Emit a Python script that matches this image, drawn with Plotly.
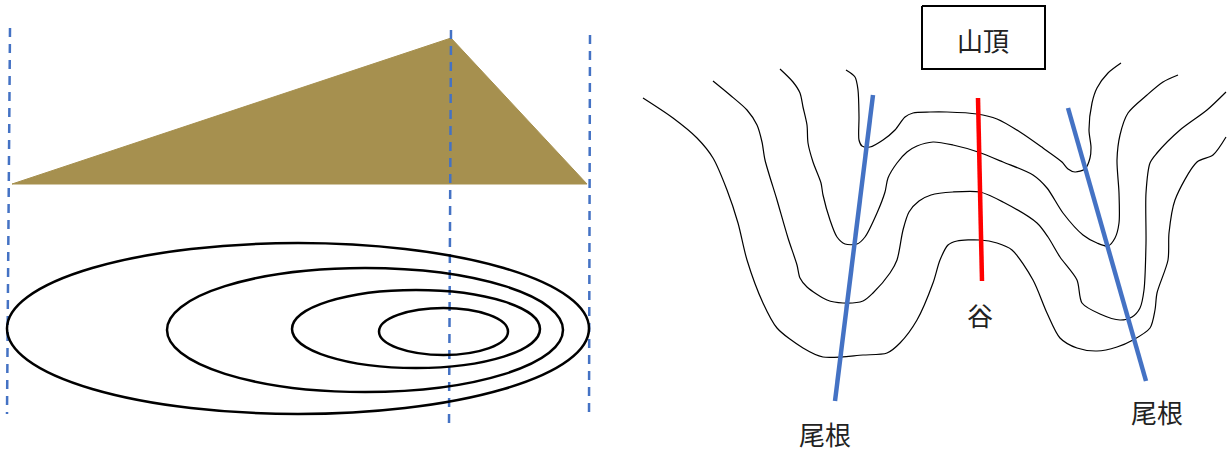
import plotly.graph_objects as go

# Profile (cross-section)
profile_x = [12, 451, 587, 12]
profile_y = [184, 38, 184, 184]

# Plan-view ellipses: left, right, top, bottom
ellipse_left = [7, 167, 292, 379]
ellipse_right = [589, 563, 540, 508]
ellipse_top = [243, 268, 290, 308]
ellipse_bottom = [414, 392, 368, 355]

# Dashed guides
guide_a_x = [10, 7]
guide_a_y = [28, 414]
guide_b_x = [451, 449]
guide_b_y = [30, 424]
guide_c_x = [590, 589]
guide_c_y = [35, 418]

# Contours
c1_x = [846, 855, 858, 859, 859, 862, 870, 883, 895, 905, 913, 930, 947, 977, 997, 1020, 1043, 1062, 1068, 1075, 1085, 1090, 1091, 1089, 1092, 1097, 1108, 1121]
c1_y = [70, 77, 90, 117, 140, 146, 147, 140, 130, 117, 113, 112, 112, 114, 119, 132, 148, 162, 169, 172, 169, 158, 147, 130, 103, 88, 73, 63]
c2_x = [780, 793, 800, 803, 807, 808, 813, 821, 823, 830, 837, 845, 857, 865, 877, 885, 888, 897, 907, 917, 933, 953, 978, 1003, 1033, 1047, 1063, 1083, 1097, 1108, 1115, 1119, 1119, 1117, 1120, 1128, 1147, 1163, 1178]
c2_y = [69, 82, 93, 107, 125, 143, 162, 183, 195, 220, 237, 244, 244, 237, 213, 192, 178, 163, 152, 146, 142, 145, 152, 162, 175, 188, 213, 235, 243, 246, 238, 223, 193, 160, 135, 113, 95, 82, 75]
c3_x = [713, 730, 747, 757, 762, 765, 777, 788, 797, 800, 807, 827, 843, 863, 873, 890, 897, 903, 909, 919, 931, 953, 980, 1003, 1037, 1048, 1060, 1077, 1082, 1100, 1120, 1132, 1140, 1144, 1146, 1146, 1150, 1157, 1180, 1207, 1226]
c3_y = [81, 95, 110, 125, 142, 160, 200, 238, 265, 278, 287, 300, 303, 301, 293, 273, 260, 230, 212, 201, 195, 192, 192, 202, 223, 237, 257, 280, 303, 314, 320, 317, 308, 290, 243, 193, 163, 153, 130, 110, 92]
c4_x = [643, 673, 697, 713, 727, 738, 747, 763, 777, 803, 823, 863, 887, 900, 917, 933, 940, 948, 957, 980, 997, 1012, 1033, 1047, 1060, 1077, 1097, 1117, 1133, 1150, 1155, 1157, 1168, 1169, 1175, 1197, 1213, 1226]
c4_y = [98, 118, 138, 158, 190, 223, 260, 303, 328, 348, 357, 355, 353, 343, 320, 283, 260, 245, 241, 240, 243, 250, 280, 313, 338, 348, 351, 347, 340, 328, 310, 293, 260, 233, 200, 162, 155, 137]

# Ridge and valley lines
ridge_a_x = [873, 835]
ridge_a_y = [95, 401]
ridge_b_x = [1068, 1146]
ridge_b_y = [108, 381]
valley_x = [978, 982]
valley_y = [98, 281]

# Summit box
box_x = [922, 1045, 1045, 922, 922]
box_y = [6, 6, 69, 69, 6]

# Labels
label_text = ["山頂", "谷", "尾根", "尾根"]
label_x = [983, 980, 825, 1157]
label_y = [44, 319, 438, 416]

fig = go.Figure()

fig.add_trace(go.Scatter(x=profile_x, y=profile_y, mode="lines", fill="toself",
                         fillcolor="#A6904F", line=dict(color="#A6904F", width=1)))

for l, r, t, b in zip(ellipse_left, ellipse_right, ellipse_top, ellipse_bottom):
    fig.add_shape(type="circle", xref="x", yref="y", x0=l, x1=r, y0=t, y1=b,
                  line=dict(color="black", width=2.5), layer="above")

for gx, gy in [(guide_a_x, guide_a_y), (guide_b_x, guide_b_y), (guide_c_x, guide_c_y)]:
    fig.add_trace(go.Scatter(x=gx, y=gy, mode="lines",
                             line=dict(color="#4472C4", width=2.5, dash="9px,7px")))

for cx, cy in [(c1_x, c1_y), (c2_x, c2_y), (c3_x, c3_y), (c4_x, c4_y)]:
    fig.add_trace(go.Scatter(x=cx, y=cy, mode="lines",
                             line=dict(color="black", width=1.2, shape="spline", smoothing=0.8)))

for rx, ry in [(ridge_a_x, ridge_a_y), (ridge_b_x, ridge_b_y)]:
    fig.add_trace(go.Scatter(x=rx, y=ry, mode="lines", line=dict(color="#4472C4", width=4.5)))
fig.add_trace(go.Scatter(x=valley_x, y=valley_y, mode="lines", line=dict(color="#FF0000", width=4.5)))

fig.add_trace(go.Scatter(x=box_x, y=box_y, mode="lines", line=dict(color="black", width=2)))

fig.add_trace(go.Scatter(x=label_x, y=label_y, mode="text", text=label_text,
                         textposition="middle center",
                         textfont=dict(family="Noto Sans CJK JP", size=26, color="#222222")))

fig.update_layout(
    width=1228, height=450, autosize=False,
    margin=dict(l=0, r=0, t=0, b=0),
    paper_bgcolor="white", plot_bgcolor="white",
    showlegend=False,
    xaxis=dict(range=[0, 1228], visible=False, fixedrange=True),
    yaxis=dict(range=[450, 0], visible=False, fixedrange=True),
)
fig.write_html("out.html", config={"displayModeBar": False},
               post_script="document.body.style.margin='0';document.body.style.overflow='hidden';")
